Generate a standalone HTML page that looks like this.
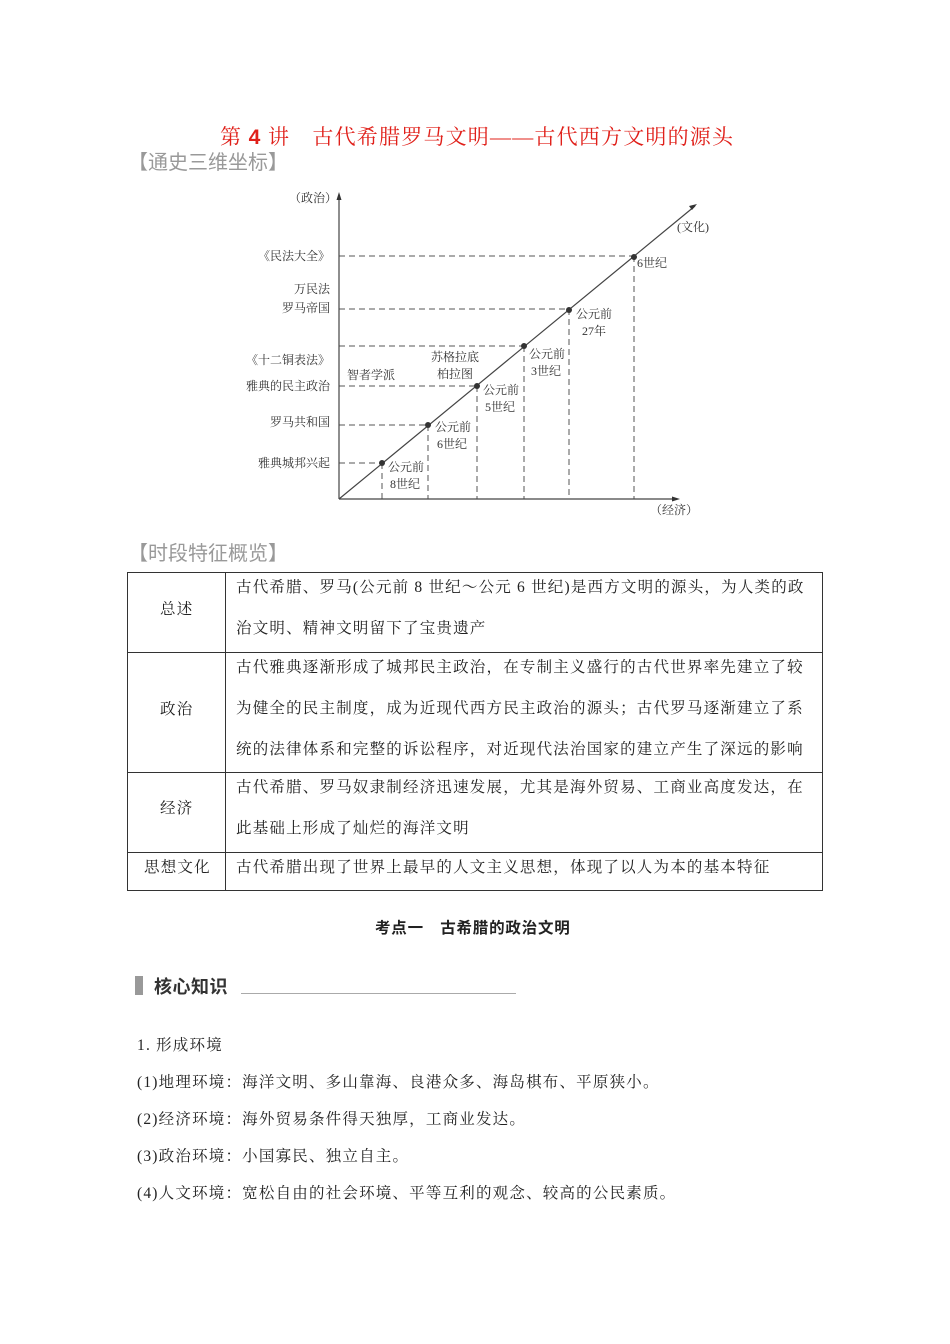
<!DOCTYPE html>
<html><head><meta charset="utf-8"><style>
body{margin:0;background:#fff;}
.p{position:relative;width:950px;height:1344px;overflow:hidden;font-family:"Liberation Serif","Noto Serif CJK SC",serif;color:#222;}
.a{position:absolute;white-space:nowrap;}
.t{font-size:15.5px;letter-spacing:1.2px;}
</style></head><body><div class="p">
<div class="a" style="left:220px;top:121px;font-size:21px;color:#e0201a;letter-spacing:1.2px;">第 <b style="font-family:'Liberation Sans',sans-serif">4</b> 讲　古代希腊罗马文明——古代西方文明的源头</div>
<div class="a" style="left:128px;top:146px;font-size:20px;color:#999;font-family:'Liberation Sans','Noto Sans CJK SC',sans-serif;">【通史三维坐标】</div>
<svg class="a" style="left:0;top:0" width="950" height="540" font-family="Liberation Serif, Noto Serif CJK SC, serif" font-size="12" fill="#333">
<g stroke="#555" stroke-width="1" stroke-dasharray="6,4" fill="none">
<line x1="339" y1="256" x2="634" y2="256"/><line x1="339" y1="309" x2="569" y2="309"/><line x1="339" y1="346" x2="524" y2="346"/><line x1="339" y1="386" x2="477" y2="386"/><line x1="339" y1="425" x2="428" y2="425"/><line x1="339" y1="463" x2="382" y2="463"/>
<line x1="634" y1="256" x2="634" y2="499"/><line x1="569" y1="309" x2="569" y2="499"/><line x1="524" y1="346" x2="524" y2="499"/><line x1="477" y1="386" x2="477" y2="499"/><line x1="428" y1="425" x2="428" y2="499"/><line x1="382" y1="463" x2="382" y2="499"/>
</g>
<g stroke="#444" stroke-width="1.2" fill="none"><line x1="339" y1="499" x2="339" y2="196"/><line x1="339" y1="499" x2="676" y2="499"/><line x1="339" y1="499" x2="695" y2="206"/></g>
<g fill="#333"><path d="M339,192 l-2.5,8 h5z"/><path d="M680,499 l-8,-2.5 v5z"/><path d="M697,204 l-8,2 l3,4z"/>
<circle cx="382" cy="463" r="3"/><circle cx="428" cy="425" r="3"/><circle cx="477" cy="386" r="3"/><circle cx="524" cy="346" r="3"/><circle cx="569" cy="310" r="3"/><circle cx="634" cy="257" r="3"/></g>
<text x="289" y="202">（政治）</text><text x="677" y="231">(文化)</text><text x="650" y="514">（经济）</text>
<g text-anchor="end"><text x="330" y="260">《民法大全》</text><text x="330" y="293">万民法</text><text x="330" y="312">罗马帝国</text><text x="330" y="364">《十二铜表法》</text><text x="330" y="390">雅典的民主政治</text><text x="330" y="426">罗马共和国</text><text x="330" y="467">雅典城邦兴起</text></g>
<text x="347" y="379">智者学派</text><text x="431" y="361">苏格拉底</text><text x="437" y="378">柏拉图</text>
<text x="637" y="267">6世纪</text><text x="576" y="318">公元前</text><text x="582" y="335">27年</text>
<text x="529" y="358">公元前</text><text x="531" y="375">3世纪</text><text x="483" y="394">公元前</text><text x="485" y="411">5世纪</text>
<text x="435" y="431">公元前</text><text x="437" y="448">6世纪</text><text x="388" y="471">公元前</text><text x="390" y="488">8世纪</text>
</svg>
<div class="a" style="left:128px;top:537px;font-size:20px;color:#999;font-family:'Liberation Sans','Noto Sans CJK SC',sans-serif;">【时段特征概览】</div>
<svg class="a" style="left:0;top:0" width="950" height="900"><g stroke="#333" stroke-width="1" fill="none">
<rect x="127.5" y="572.5" width="695" height="318"/><line x1="225.5" y1="572" x2="225.5" y2="891"/>
<line x1="127" y1="652.5" x2="823" y2="652.5"/><line x1="127" y1="772.5" x2="823" y2="772.5"/><line x1="127" y1="852.5" x2="823" y2="852.5"/></g></svg>
<div class="a t" style="left:160px;top:597px;">总述</div>
<div class="a t" style="left:160px;top:697px;">政治</div>
<div class="a t" style="left:160px;top:796px;">经济</div>
<div class="a t" style="left:144px;top:855px;">思想文化</div>
<div class="a t" style="left:236px;top:575px;">古代希腊、罗马(公元前 8 世纪～公元 6 世纪)是西方文明的源头，为人类的政</div>
<div class="a t" style="left:236px;top:616px;">治文明、精神文明留下了宝贵遗产</div>
<div class="a t" style="left:236px;top:655px;">古代雅典逐渐形成了城邦民主政治，在专制主义盛行的古代世界率先建立了较</div>
<div class="a t" style="left:236px;top:696px;">为健全的民主制度，成为近现代西方民主政治的源头；古代罗马逐渐建立了系</div>
<div class="a t" style="left:236px;top:737px;">统的法律体系和完整的诉讼程序，对近现代法治国家的建立产生了深远的影响</div>
<div class="a t" style="left:236px;top:775px;">古代希腊、罗马奴隶制经济迅速发展，尤其是海外贸易、工商业高度发达，在</div>
<div class="a t" style="left:236px;top:816px;">此基础上形成了灿烂的海洋文明</div>
<div class="a t" style="left:236px;top:855px;">古代希腊出现了世界上最早的人文主义思想，体现了以人为本的基本特征</div>
<div class="a" style="left:375px;top:916px;font-size:15.5px;font-weight:bold;letter-spacing:0.8px;font-family:'Liberation Sans','Noto Sans CJK SC',sans-serif;">考点一　古希腊的政治文明</div>
<div class="a" style="left:135px;top:976px;width:8px;height:19px;background:#999;"></div>
<div class="a" style="left:154px;top:973px;font-size:18px;font-weight:bold;color:#333;letter-spacing:0.5px;font-family:'Liberation Sans','Noto Sans CJK SC',sans-serif;">核心知识</div>
<div class="a" style="left:241px;top:993px;width:275px;height:1px;background:#aaa;"></div>
<div class="a t" style="left:137px;top:1033px;">1. 形成环境</div>
<div class="a t" style="left:137px;top:1070px;">(1)地理环境：海洋文明、多山靠海、良港众多、海岛棋布、平原狭小。</div>
<div class="a t" style="left:137px;top:1107px;">(2)经济环境：海外贸易条件得天独厚，工商业发达。</div>
<div class="a t" style="left:137px;top:1144px;">(3)政治环境：小国寡民、独立自主。</div>
<div class="a t" style="left:137px;top:1181px;">(4)人文环境：宽松自由的社会环境、平等互利的观念、较高的公民素质。</div>
</div></body></html>
